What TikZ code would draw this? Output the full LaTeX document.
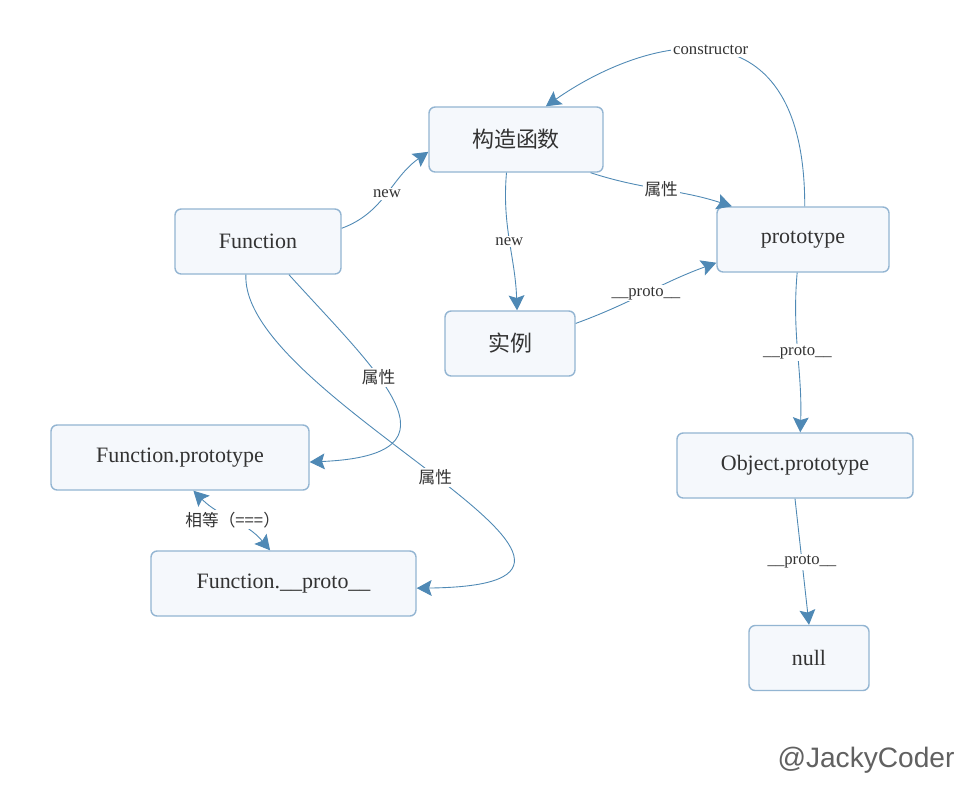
\documentclass[tikz,border=0pt]{standalone}
\usepackage{fontspec}
\setmainfont{Liberation Serif}
\newfontfamily\cjk{Noto Sans CJK SC}
\newfontfamily\marksans{Liberation Sans}
\usetikzlibrary{arrows.meta}
\definecolor{boxfill}{HTML}{F5F8FC}
\definecolor{boxline}{HTML}{93B5D2}
\definecolor{linkblue}{HTML}{4F89B5}
\definecolor{inktext}{HTML}{333333}
\tikzset{
  box/.style={draw=boxline, fill=boxfill, line width=0.8pt, rounded corners=3.5pt,
    minimum height=1.3cm, text=inktext, font=\fontsize{12.5}{15}\selectfont},
  link/.style={->, draw=linkblue, line width=0.5pt},
  lbl/.style={fill=white, inner sep=1pt, text=inktext, font=\fontsize{9.5}{11}\selectfont},
  >={Stealth[length=8.5pt,width=9pt,inset=1.5pt]}
}
\begin{document}
\begin{tikzpicture}
      \path[use as bounding box, fill=white] (0,0) rectangle (19.52,-15.72);
      \draw
        (10.32,-2.79) node[box, minimum width=3.48cm] (ctor) {\cjk 构造函数}
        (5.16,-4.83) node[box, minimum width=3.32cm] (fn) {Function}
        (16.06,-4.79) node[box, minimum width=3.44cm] (proto) {prototype}
        (10.20,-6.87) node[box, minimum width=2.60cm] (inst) {\cjk 实例}
        (3.60,-9.15) node[box, minimum width=5.16cm] (fnproto) {Function.prototype}
        (5.67,-11.67) node[box, minimum width=5.30cm] (fnunder) {Function.\_\_proto\_\_}
        (15.90,-9.31) node[box, minimum width=4.72cm] (objproto) {Object.prototype}
        (16.18,-13.16) node[box, minimum width=2.40cm] (null) {null};
      \begin{scope}[link]
        \draw (fn.9) to[out=20,in=215] node[lbl] {new} (ctor.188);
        \draw (ctor.254) to[out=265,in=92] node[lbl] {new} (inst.78);
        \draw (ctor.336) to[out=-18,in=162] node[lbl] {\cjk 属性} (proto.155);
        \draw (inst.17) to[out=20,in=200] node[lbl] {\_\_proto\_\_} (proto.195);
        \draw (proto.87) .. controls (16.10,0.20) and (12.80,-0.80) .. (ctor.48)
          node[lbl, pos=0.5] {constructor};
        \draw (proto.260) to[out=265,in=88] node[lbl] {\_\_proto\_\_} (objproto.81);
        \draw (objproto.south) -- node[lbl] {\_\_proto\_\_} (null.north);
        \draw (fn.313) .. controls (7.60,-7.50) and (9.40,-9.10) .. (fnproto.358)
          node[lbl, pos=0.38] {\cjk 属性};
        \draw (fn.250) .. controls (4.80,-8.00) and (14.00,-11.70) .. (fnunder.358)
          node[lbl, pos=0.5] {\cjk 属性};
        \draw[<->] (fnproto.292) to[out=-45,in=130] node[lbl] {\cjk 相等（===）} (fnunder.112);
      \end{scope}
      \node[font=\marksans\fontsize{16}{18}\selectfont, text=black!62] (mark) at (17.32,-15.20) {@JackyCoder};
    \end{tikzpicture}
\end{document}
